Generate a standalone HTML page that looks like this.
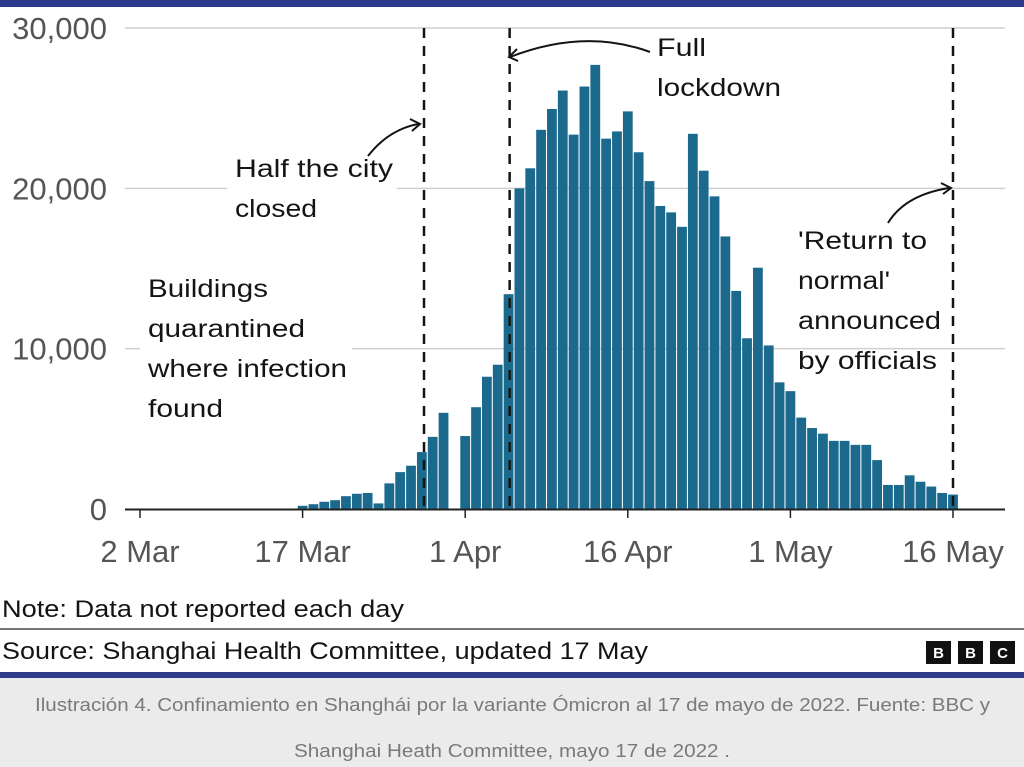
<!DOCTYPE html>
<html><head><meta charset="utf-8"><style>
html,body{margin:0;padding:0;width:1024px;height:767px;overflow:hidden;background:#fff}
svg{display:block}
</style></head><body>
<svg id="chart" width="1024" height="767" viewBox="0 0 1024 767" font-family="'Liberation Sans', sans-serif">
<rect x="0" y="0" width="1024" height="7" fill="#2e3a8c"/>
<g id="grid"></g>
<g id="bars"></g>
<g id="axes"></g>
<g id="ann" font-size="25" fill="#141414" lengthAdjust="spacingAndGlyphs">
<text x="235" y="177" textLength="158" lengthAdjust="spacingAndGlyphs">Half the city</text>
<text x="235" y="217" textLength="82" lengthAdjust="spacingAndGlyphs">closed</text>
<text x="148" y="297" textLength="120" lengthAdjust="spacingAndGlyphs">Buildings</text>
<text x="148" y="337" textLength="157" lengthAdjust="spacingAndGlyphs">quarantined</text>
<text x="148" y="377" textLength="199" lengthAdjust="spacingAndGlyphs">where infection</text>
<text x="148" y="417" textLength="75" lengthAdjust="spacingAndGlyphs">found</text>
<text x="657" y="56" textLength="49" lengthAdjust="spacingAndGlyphs">Full</text>
<text x="657" y="96" textLength="124" lengthAdjust="spacingAndGlyphs">lockdown</text>
<text x="798" y="249" textLength="129" lengthAdjust="spacingAndGlyphs">'Return to</text>
<text x="798" y="289" textLength="92" lengthAdjust="spacingAndGlyphs">normal'</text>
<text x="798" y="329" textLength="143" lengthAdjust="spacingAndGlyphs">announced</text>
<text x="798" y="369" textLength="139" lengthAdjust="spacingAndGlyphs">by officials</text>
<path d="M368,156 Q388,130 418,124" fill="none" stroke="#141414" stroke-width="2"/>
<path d="M410,119 L420,124 L412,131" fill="none" stroke="#141414" stroke-width="2"/>
<path d="M650,52 Q585,28 510,57" fill="none" stroke="#141414" stroke-width="2"/>
<path d="M517,49 L509,57 L518,61" fill="none" stroke="#141414" stroke-width="2"/>
<path d="M888,223 Q905,195 949,188" fill="none" stroke="#141414" stroke-width="2"/>
<path d="M941,183 L951,188 L943,194" fill="none" stroke="#141414" stroke-width="2"/>
</g>
<text x="2" y="617" font-size="24" textLength="402" lengthAdjust="spacingAndGlyphs" fill="#141414">Note: Data not reported each day</text>
<rect x="0" y="628" width="1024" height="2" fill="#777"/>
<text x="2" y="659" font-size="24" textLength="646" lengthAdjust="spacingAndGlyphs" fill="#141414">Source: Shanghai Health Committee, updated 17 May</text>
<g font-size="15" font-weight="bold" fill="#fff" text-anchor="middle">
<rect x="926" y="641" width="25" height="23" fill="#111"/><text x="938.5" y="658">B</text>
<rect x="958" y="641" width="25" height="23" fill="#111"/><text x="970.5" y="658">B</text>
<rect x="990" y="641" width="25" height="23" fill="#111"/><text x="1002.5" y="658">C</text>
</g>
<rect x="0" y="672" width="1024" height="6" fill="#2e3a8c"/>
<rect x="0" y="678" width="1024" height="89" fill="#ebebeb"/>
<g font-size="18" fill="#7a7a7a">
<text x="35" y="711" textLength="955" lengthAdjust="spacingAndGlyphs">Ilustración 4. Confinamiento en Shanghái por la variante Ómicron al 17 de mayo de 2022. Fuente: BBC y</text>
<text x="294" y="757" textLength="436" lengthAdjust="spacingAndGlyphs">Shanghai Heath Committee, mayo 17 de 2022 .</text>
</g>
</svg>
<script>
// day index 0 = 2 Mar
const startDay = 15;
const cases = [200,300,450,550,800,950,1000,350,1600,2300,2700,3550,4500,6000,0,4550,6350,8250,9000,13400,
20000,21250,23650,24950,26100,23350,26350,27700,23100,23550,24800,22250,20450,18900,18500,17600,23400,21100,19500,17000,
13600,10650,15050,10200,7900,7350,5700,5050,4700,4250,4250,4000,4000,3050,1500,1500,2100,1700,1400,1000,900];
const yTicks = [0,10000,20000,30000];
const yTickLabels = ["0","10,000","20,000","30,000"];
const xTickDays = [0,15,30,45,60,75];
const xTickLabels = ["2 Mar","17 Mar","1 Apr","16 Apr","1 May","16 May"];
const eventDays = [26.2,34.1,75];
const NS='http://www.w3.org/2000/svg';
const x = d => 140 + d*(813/75);
const y = v => 509 - v*(481/30000);
function mk(tag, attrs, parent){const e=document.createElementNS(NS,tag);for(const k in attrs)e.setAttribute(k,attrs[k]);parent.appendChild(e);return e;}
const grid=document.getElementById('grid'), bars=document.getElementById('bars'), axes=document.getElementById('axes');
const gridSegs={10000:[[125,140],[352,1005]],20000:[[125,227],[397,1005]],30000:[[125,1005]]};
yTicks.forEach((t,i)=>{
  if(gridSegs[t]) gridSegs[t].forEach(s=>{
    const l=mk('line',{x1:s[0],x2:s[1],y1:y(t),y2:y(t),stroke:'#cfcfcf','stroke-width':1.5},grid);
    
    
  });
  const tx=mk('text',{x:107,y:y(t)+11,'font-size':31,fill:'#555','text-anchor':'end'},axes);
  tx.textContent=yTickLabels[i];
  
  
});
cases.forEach((v,i)=>{
  if(v<=0) return;
  const d=startDay+i;
  const r=mk('rect',{x:x(d)-4.9,y:y(v),width:9.8,height:509-y(v),fill:'#1b6a8d'},bars);
  
  
});
const ax=mk('line',{x1:125,x2:1005,y1:509.5,y2:509.5,stroke:'#222','stroke-width':2},axes);


xTickDays.forEach((d,i)=>{
  const tk=mk('line',{x1:x(d),x2:x(d),y1:509,y2:518,stroke:'#222','stroke-width':1.5},axes);
  
  
  const tx=mk('text',{x:x(d),y:562,'font-size':31,fill:'#555','text-anchor':'middle'},axes);
  tx.textContent=xTickLabels[i];
  
  
});
eventDays.forEach(d=>{
  const l=mk('line',{x1:x(d),x2:x(d),y1:28,y2:509,stroke:'#141414','stroke-width':2.5,'stroke-dasharray':'10,8'},axes);
  
  
});
</script>
</body></html>
